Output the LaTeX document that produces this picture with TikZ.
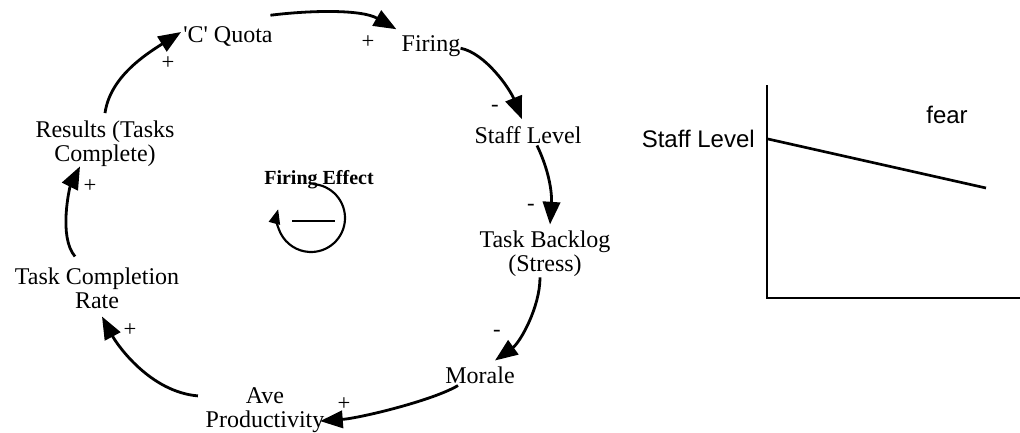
\documentclass[tikz,border=0pt]{standalone}
\usepackage{fontspec}
\setmainfont{Liberation Serif}
\newfontfamily\plotfont{Liberation Sans}
\usetikzlibrary{arrows.meta,calc}
\begin{document}
\begin{tikzpicture}[x=0.75pt,y=-0.75pt,
  var/.style={font=\fontsize{18}{18}\selectfont, inner sep=0pt, align=center, anchor=base},
  sgn/.style={font=\fontsize{17}{17}\selectfont, inner sep=0pt},
  link/.style={line width=2.1pt, -{Triangle[length=17pt,width=13pt]}},
  loopline/.style={line width=1.6pt, -{Triangle[length=11pt,width=8.5pt]}},
  axis/.style={line width=1.5pt},
  curve/.style={line width=2pt},
  plotlbl/.style={font=\plotfont\fontsize{18}{18}\selectfont, inner sep=0pt, anchor=base}]
\useasboundingbox (0,0) rectangle (1020,432);

% causal loop variables (base = baseline of the last line)
\node[var] (quota)    at (228,42)  {\textquotesingle C\textquotesingle{} Quota};
\node[var] (firing)   at (431,51)  {Firing};
\node[var] (staff)    at (528,143) {Staff Level};
\node[var] (backlog)  at (545,271) {Task Backlog\\(Stress)};
\node[var] (morale)   at (480,383) {Morale};
\node[var] (avep)     at (265,427) {Ave\\Productivity};
\node[var] (taskrate) at (97,308)  {Task Completion\\Rate};
\node[var] (results)  at (105,161) {Results (Tasks\\Complete)};

% links of the loop
\draw[link] ($(results.north)+(0,-7)$) .. controls +(5,-35) and +(-38,24) .. ($(quota.west)+(-2,-4)$);
\draw[link] ($(quota.north east)+(-2.5,-10.6)$) .. controls +(40,-5) and +(-35,-20) .. ($(firing.north west)+(-5,-5.6)$);
\draw[link] ($(firing.east)+(0,2.6)$) .. controls +(25,5) and +(-12,-30) .. ($(staff.north)+(-6,-6.6)$);
\draw[link] ($(staff.south)+(9,2)$) .. controls +(13,27) and +(2,-30) .. ($(backlog.north)+(5,-5.6)$);
\draw[link] ($(backlog.south)+(-5,1)$) .. controls +(0,30) and +(25,-18) .. ($(morale.north)+(15,-5.6)$);
\draw[link] ($(morale.south)+(-22,2)$) .. controls +(-25,15) and +(40,-3) .. ($(avep.east)+(-4.5,11.4)$);
\draw[link] ($(avep.north west)+(-7.5,9)$) .. controls +(-48,-4) and +(15,28) .. ($(taskrate.south)+(5,8)$);
\draw[link] ($(taskrate.north)+(-22,-10.6)$) .. controls +(-17,-20) and +(-10,20) .. ($(results.south)+(-25,0)$);

% link polarities
\node[sgn] (s1) at (168,63)  {+};
\node[sgn] (s2) at (368,42)  {+};
\node[sgn] (s3) at (495,108) {-};
\node[sgn] (s4) at (531,207) {-};
\node[sgn] (s5) at (497,333) {-};
\node[sgn] (s6) at (344,404) {+};
\node[sgn] (s7) at (130,330) {+};
\node[sgn] (s8) at (90,186)  {+};

% balancing loop marker
\node[font=\bfseries\fontsize{15}{15}\selectfont, inner sep=0pt, anchor=base] (effect) at (319,184) {Firing Effect};
\coordinate (loopc) at (311,218);
\draw[loopline] (loopc) ++(87:25.5pt) arc[start angle=87, end angle=-195, radius=25.5pt];
\draw[line width=2pt] (292,221) -- (335,221);

% staff level over time
\coordinate (origin) at (767,298);
\coordinate (ytop) at (767,85);
\coordinate (xend) at (1020,298);
\draw[axis] (ytop) -- (origin) -- (xend);
\coordinate (c0) at (768,139);
\coordinate (c1) at (986,188);
\draw[curve] (c0) -- (c1);
\node[plotlbl, anchor=base east] (ylbl) at (755,147) {Staff Level};
\node[plotlbl] (fear) at (947,123) {fear};
\end{tikzpicture}
\end{document}
